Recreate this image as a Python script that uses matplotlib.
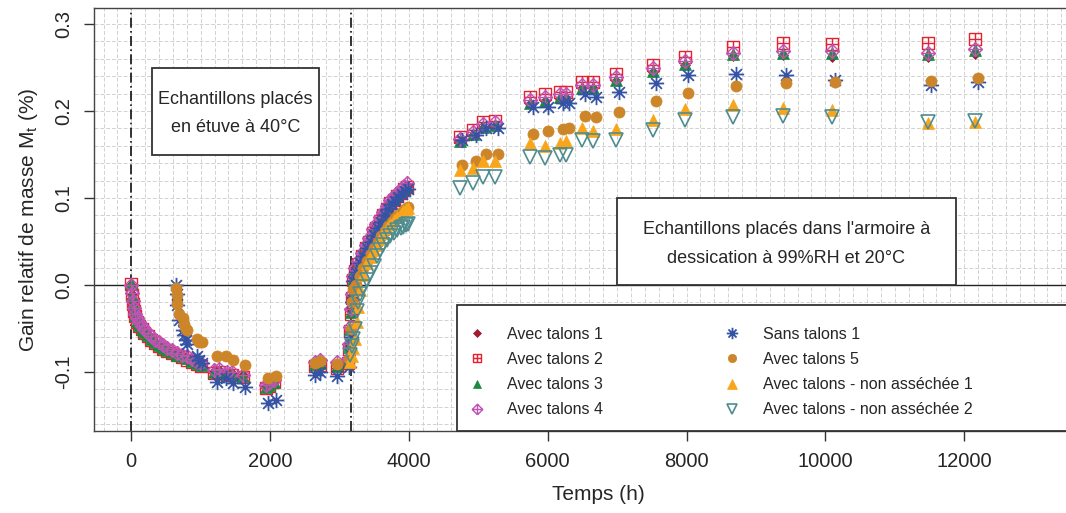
import matplotlib
matplotlib.use('Agg')
import matplotlib.pyplot as plt
import matplotlib.ticker as mticker
from matplotlib.path import Path
from matplotlib.patches import Rectangle

plt.rcParams['font.family'] = ['Liberation Sans', 'DejaVu Sans']
plt.rcParams['axes.unicode_minus'] = False

# --- Data ---
# Avec talons 1-4 : drying, storage, then humid cabinet
t_dry = [0, 10, 25, 40, 60, 85, 115, 150, 190, 240, 290, 345, 400, 460, 520,
         590, 660, 730, 800, 870, 940, 1010, 1190, 1260, 1380, 1450, 1610, 1940, 1990, 2060]
t_store = [2650, 2720, 2960]
t_rise = [3120, 3140, 3155, 3170, 3185, 3200, 3230, 3270, 3320, 3380, 3430,
          3480, 3530, 3580, 3630, 3680, 3730, 3780, 3830, 3880, 3930, 3970]
t_late = [4735, 4930, 5070, 5240, 5745, 5960, 6175, 6270, 6490, 6655,
          6990, 7520, 7975, 8670, 9390, 10100, 11480, 12155]
t_avec = t_dry + t_store + t_rise + t_late

y_avec1 = [0.0, -0.010, -0.020, -0.027, -0.034, -0.040, -0.045, -0.049, -0.053, -0.057,
           -0.061, -0.065, -0.068, -0.071, -0.074, -0.076, -0.079, -0.081, -0.083, -0.086,
           -0.089, -0.091, -0.099, -0.098, -0.101, -0.101, -0.104, -0.116, -0.114, -0.110,
           -0.090, -0.089, -0.092,
           -0.087, -0.070, -0.050, -0.030, -0.012, 0.008, 0.018, 0.026, 0.035, 0.044, 0.052,
           0.062, 0.068, 0.076, 0.082, 0.089, 0.096, 0.100, 0.104, 0.108, 0.112, 0.115,
           0.164, 0.172, 0.181, 0.183, 0.208, 0.211, 0.214, 0.215, 0.226, 0.226,
           0.235, 0.245, 0.253, 0.263, 0.264, 0.262, 0.262, 0.266]
y_avec2 = [0.001, -0.012, -0.022, -0.030, -0.036, -0.042, -0.047, -0.051, -0.055, -0.059,
           -0.063, -0.067, -0.070, -0.073, -0.076, -0.078, -0.081, -0.083, -0.086, -0.089,
           -0.091, -0.093, -0.101, -0.100, -0.103, -0.104, -0.106, -0.118, -0.116, -0.112,
           -0.093, -0.092, -0.095,
           -0.090, -0.073, -0.053, -0.033, -0.015, 0.006, 0.016, 0.024, 0.033, 0.042, 0.050,
           0.060, 0.066, 0.074, 0.080, 0.087, 0.094, 0.098, 0.102, 0.106, 0.110, 0.113,
           0.170, 0.178, 0.187, 0.189, 0.216, 0.219, 0.222, 0.222, 0.233, 0.233,
           0.242, 0.253, 0.262, 0.273, 0.278, 0.277, 0.278, 0.283]
y_avec3 = [0.002, -0.011, -0.021, -0.028, -0.035, -0.041, -0.046, -0.050, -0.054, -0.058,
           -0.062, -0.066, -0.069, -0.072, -0.075, -0.077, -0.080, -0.082, -0.084, -0.087,
           -0.090, -0.092, -0.100, -0.099, -0.102, -0.102, -0.105, -0.117, -0.115, -0.111,
           -0.091, -0.090, -0.093,
           -0.088, -0.071, -0.051, -0.031, -0.013, 0.007, 0.017, 0.025, 0.034, 0.043, 0.051,
           0.061, 0.067, 0.075, 0.081, 0.088, 0.095, 0.099, 0.103, 0.107, 0.111, 0.114,
           0.165, 0.173, 0.182, 0.184, 0.209, 0.212, 0.216, 0.216, 0.227, 0.227,
           0.236, 0.246, 0.254, 0.265, 0.267, 0.267, 0.266, 0.270]
y_avec4 = [0.0, -0.009, -0.018, -0.026, -0.033, -0.038, -0.043, -0.047, -0.051, -0.055,
           -0.059, -0.063, -0.066, -0.069, -0.072, -0.075, -0.078, -0.080, -0.082, -0.085,
           -0.088, -0.090, -0.098, -0.097, -0.100, -0.100, -0.103, -0.115, -0.113, -0.109,
           -0.088, -0.086, -0.089,
           -0.085, -0.068, -0.048, -0.028, -0.010, 0.010, 0.020, 0.028, 0.037, 0.046, 0.054,
           0.064, 0.070, 0.078, 0.084, 0.091, 0.098, 0.102, 0.106, 0.110, 0.114, 0.117,
           0.168, 0.176, 0.185, 0.187, 0.213, 0.216, 0.219, 0.220, 0.230, 0.230,
           0.239, 0.249, 0.257, 0.267, 0.269, 0.269, 0.267, 0.271]

# Sans talons 1 and Avec talons 5 : restarted at ~650 h
t_dry_b = [645, 655, 665, 690, 740, 760, 790, 810, 940, 980, 1020, 1230, 1370, 1470, 1640, 1970, 2090]
t_store_b = [2650, 2720, 2960]
t_rise_b = [3140, 3160, 3180, 3200, 3240, 3290, 3340, 3400, 3450, 3500,
            3550, 3600, 3650, 3700, 3750, 3800, 3850, 3900, 3950, 3990]
t_late_b = [4770, 4970, 5110, 5280, 5785, 6000, 6215, 6310, 6530, 6695,
            7030, 7560, 8015, 8710, 9430, 10140, 11520, 12195]
t_sans = t_dry_b + t_store_b + t_rise_b + t_late_b

y_sans1 = [0.0, -0.010, -0.023, -0.040, -0.052, -0.058, -0.063, -0.068, -0.082, -0.086,
           -0.090, -0.111, -0.107, -0.113, -0.117, -0.136, -0.132,
           -0.103, -0.100, -0.105,
           -0.094, -0.060, -0.020, 0.005, 0.015, 0.025, 0.033, 0.042, 0.050, 0.058,
           0.066, 0.073, 0.080, 0.087, 0.093, 0.097, 0.101, 0.105, 0.108, 0.110,
           0.167, 0.172, 0.181, 0.180, 0.205, 0.205, 0.209, 0.209, 0.220, 0.216,
           0.222, 0.232, 0.241, 0.243, 0.241, 0.236, 0.230, 0.233]
y_avec5 = [-0.003, -0.012, -0.022, -0.033, -0.038, -0.045, -0.050, -0.052, -0.062, -0.065,
           -0.066, -0.082, -0.082, -0.086, -0.092, -0.107, -0.105,
           -0.090, -0.087, -0.091,
           -0.085, -0.050, -0.020, -0.005, 0.000, 0.010, 0.020, 0.028, 0.036, 0.042,
           0.050, 0.056, 0.062, 0.068, 0.073, 0.077, 0.080, 0.084, 0.087, 0.090,
           0.138, 0.142, 0.151, 0.151, 0.174, 0.177, 0.179, 0.180, 0.194, 0.193,
           0.199, 0.211, 0.221, 0.229, 0.232, 0.233, 0.234, 0.238]

# Avec talons - non asséchée 1 et 2 : placed directly in the cabinet
t_rise_na = [3150, 3180, 3200, 3220, 3245, 3270, 3295, 3340, 3390, 3440, 3490,
             3540, 3590, 3630, 3680, 3730, 3780, 3830, 3880, 3920, 3960, 3990]
t_na = t_rise_na + t_late

y_na1 = [-0.088, -0.082, -0.072, -0.062, -0.042, -0.025, -0.006, 0.012, 0.025, 0.032, 0.040,
         0.046, 0.053, 0.060, 0.065, 0.070, 0.075, 0.078, 0.082, 0.085, 0.087, 0.088,
         0.132, 0.134, 0.142, 0.142, 0.163, 0.160, 0.163, 0.165, 0.180, 0.177,
         0.179, 0.190, 0.202, 0.207, 0.204, 0.201, 0.186, 0.187]
y_na2 = [-0.080, -0.070, -0.062, -0.050, -0.030, -0.020, -0.010, -0.002, 0.006, 0.014, 0.022,
         0.033, 0.040, 0.046, 0.052, 0.056, 0.060, 0.063, 0.066, 0.067, 0.069, 0.070,
         0.111, 0.117, 0.124, 0.124, 0.147, 0.146, 0.149, 0.149, 0.167, 0.165,
         0.167, 0.178, 0.190, 0.193, 0.194, 0.193, 0.187, 0.189]

t_etuve = 0
t_armoire = 3165
x_ticks = [0, 2000, 4000, 6000, 8000, 10000, 12000]

# --- Custom R-like markers ---
M, L = Path.MOVETO, Path.LINETO
square_plus = Path([(-1, -1), (1, -1), (1, 1), (-1, 1), (-1, -1), (0, -1), (0, 1), (-1, 0), (1, 0)],
                   [M, L, L, L, L, M, L, M, L])
diamond_plus = Path([(0, -1), (1, 0), (0, 1), (-1, 0), (0, -1), (0, -1), (0, 1), (-1, 0), (1, 0)],
                    [M, L, L, L, L, M, L, M, L])
d = 0.707
asterisk = Path([(0, -1), (0, 1), (-1, 0), (1, 0), (-d, -d), (d, d), (-d, d), (d, -d)],
                [M, L, M, L, M, L, M, L])

series = [
    ('Avec talons 1', t_avec, y_avec1, dict(marker='D', ms=5.5, mfc='#9e1b32', mec='#9e1b32', mew=0.5)),
    ('Avec talons 2', t_avec, y_avec2, dict(marker=square_plus, ms=8.5, mfc='none', mec='#e8202e', mew=1.0)),
    ('Avec talons 3', t_avec, y_avec3, dict(marker='^', ms=8, mfc='#1a8a3e', mec='#1a8a3e', mew=0.5)),
    ('Avec talons 4', t_avec, y_avec4, dict(marker=diamond_plus, ms=10, mfc='none', mec='#c052b4', mew=1.0)),
    ('Sans talons 1', t_sans, y_sans1, dict(marker=asterisk, ms=11, mfc='none', mec='#3553a5', mew=1.3)),
    ('Avec talons 5', t_sans, y_avec5, dict(marker='o', ms=8, mfc='#cd8529', mec='#cd8529', mew=0.5)),
    ('Avec talons - non asséchée 1', t_na, y_na1, dict(marker='^', ms=9, mfc='#f9a51c', mec='#f9a51c', mew=0.5)),
    ('Avec talons - non asséchée 2', t_na, y_na2, dict(marker='v', ms=9.5, mfc='none', mec='#4f8c8f', mew=1.2)),
]

W, H = 1066, 513
X0, X1 = -537, 14000
Y0, Y1 = -0.1678, 0.3184
fig = plt.figure(figsize=(W / 100, H / 100), dpi=100)
ax = fig.add_axes([94 / W, 82 / H, 1009 / W, 423 / H])

text_col = '#262626'

handles = []
for label, t, y, style in series:
    h, = ax.plot(t, y, linestyle='none', label=label, zorder=3, **style)
    handles.append(h)

ax.axhline(0, color='#222222', lw=1.0, zorder=2)
for tv in (t_etuve, t_armoire):
    ax.axvline(tv, color='#111111', lw=1.2, linestyle=(0, (6, 2, 1, 2)), zorder=2)

ax.set_xlim(X0, X1)
ax.set_ylim(Y0, Y1)

ax.xaxis.set_major_locator(mticker.FixedLocator(x_ticks))
ax.xaxis.set_minor_locator(mticker.MultipleLocator(200))
ax.yaxis.set_major_locator(mticker.MultipleLocator(0.1))
ax.yaxis.set_minor_locator(mticker.MultipleLocator(0.02))
ax.yaxis.set_major_formatter(mticker.FuncFormatter(lambda v, p: f'{v:.1f}'))

ax.grid(True, which='both', color='#d2d2d2', linestyle=(0, (4, 2)), linewidth=0.7, zorder=0)
ax.set_axisbelow(True)

ax.tick_params(which='major', length=7, width=1, color='#333333', labelsize=14.5,
               labelcolor=text_col, pad=8)
ax.tick_params(which='minor', length=0)
for lab in ax.get_yticklabels():
    lab.set_rotation(90)
    lab.set_va('center')
for s in ax.spines.values():
    s.set_color('#444444')
    s.set_linewidth(1.0)

ax.set_xlabel('Temps (h)', fontsize=15, color=text_col, labelpad=10)
ax.set_ylabel('Gain relatif de masse M$_\\mathregular{t}$ (%)', fontsize=15, color=text_col, labelpad=10)

# --- Annotation boxes ---
ax.add_patch(Rectangle((295, 0.1494), 2410, 0.1006, facecolor='white', edgecolor='#333333',
                       lw=1.3, zorder=4))
ax.text(1500, 0.197, 'Echantillons placés\nen étuve à 40°C', ha='center', va='center',
        fontsize=13, color=text_col, linespacing=1.9, zorder=5)

ax.add_patch(Rectangle((7000, 0.0), 4880, 0.1, facecolor='white', edgecolor='#333333',
                       lw=1.3, zorder=4))
ax.text(9440, 0.047, "Echantillons placés dans l'armoire à\ndessication à 99%RH et 20°C",
        ha='center', va='center', fontsize=13, color=text_col, linespacing=1.9, zorder=5)

# --- Legend (frame drawn separately, runs off the right edge) ---
leg_x, leg_top = 4692, -0.023
ax.add_patch(Rectangle((leg_x, Y0), X1 - leg_x + 500, leg_top - Y0, facecolor='white',
                       edgecolor='#333333', lw=1.3, zorder=4, clip_on=False))
leg = ax.legend(handles=handles, ncol=2, loc='upper left', frameon=False,
                bbox_to_anchor=((leg_x - 130 - X0) / (X1 - X0), (leg_top - 0.0069 - Y0) / (Y1 - Y0)),
                fontsize=11.5, markerscale=0.75, handlelength=1.6, handletextpad=1.1,
                columnspacing=7.3, labelspacing=0.63, borderpad=1.0, borderaxespad=0)
leg.set_zorder(6)
for txt in leg.get_texts():
    txt.set_color(text_col)

fig.savefig('out.png', dpi=100)
